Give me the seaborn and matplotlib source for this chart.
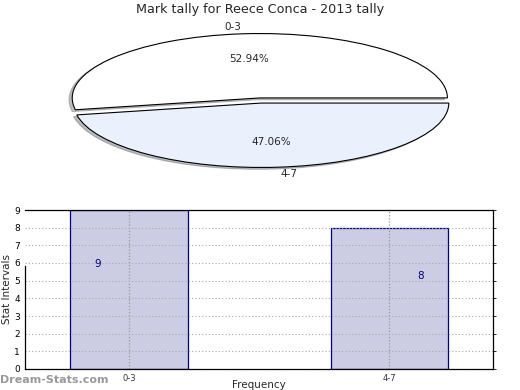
"""
Mark tally chart: pie of interval shares on top, bar chart of counts below.
"""

import matplotlib
matplotlib.use("Agg")
import matplotlib.pyplot as plt
import pandas as pd
import seaborn as sns

TITLE = "Mark tally for Reece Conca - 2013 tally"
intervals = ["0-3", "4-7"]
counts = [9, 8]
pie_colors = ["#ffffff", "#eaf0fc"]

BAR_FILL = "#ccccE4"
BAR_EDGE = "#000080"


def draw_pie(ax):
    ax.pie(
        counts,
        labels=intervals,
        colors=pie_colors,
        autopct="%.2f%%",
        startangle=0,
        counterclock=True,
        explode=[0.04, 0.04],
        shadow={"ox": -0.012, "oy": -0.02, "shade": 0.5},
        wedgeprops={"edgecolor": "black", "linewidth": 0.8},
        textprops={"fontsize": 7.5},
    )
    ax.set_aspect("auto")
    ax.set_xlim(-1.25, 1.25)
    ax.set_ylim(-1.25, 1.25)


def draw_bars(ax):
    df = pd.DataFrame({"interval": intervals, "count": counts})
    sns.barplot(data=df, x="interval", y="count", ax=ax, width=0.45,
                color=BAR_FILL, edgecolor=BAR_EDGE, linewidth=0.9,
                saturation=1, zorder=1)
    ax.set_xlim(-0.4, 1.4)
    ax.set_ylim(0, 9)
    ax.set_yticks(range(0, 10))
    ax.set_axisbelow(False)
    ax.grid(True, axis="y", linestyle=(0, (1, 2)), color="#aaaaaa", linewidth=0.8)
    ax.grid(True, axis="x", linestyle=(0, (1, 1.5)), color="#999999", linewidth=0.9)
    ax.tick_params(axis="both", labelsize=6, length=2, width=0.6, pad=1.5,
                   colors="#333333", right=True, direction="out")
    ax.tick_params(axis="y", labelsize=6.5, colors="black")
    for i, v in enumerate(counts):
        sign = -1 if i == 0 else 1
        ax.text(i + sign * 0.12, v * 0.66, str(v), color=BAR_EDGE,
                fontsize=7.5, ha="center", va="center", zorder=4)
    ax.set_xlabel("")
    ax.set_ylabel("Stat Intervals", fontsize=7.5)
    ax.yaxis.set_label_coords(-0.028, 0.5)
    for s in ax.spines.values():
        s.set_linewidth(0.9)
        s.set_color("black")
        s.set_zorder(5)
    ax.spines["left"].set_bounds(0, 5.85)


def main():
    sns.set_style("white")
    plt.rcParams["font.family"] = ["DejaVu Sans"]
    fig = plt.figure(figsize=(5.2, 3.9), dpi=100)

    ax_pie = fig.add_axes([26 / 520, (390 - 181) / 390, 469 / 520, 161 / 390])
    draw_pie(ax_pie)
    fig.text(0.5, 1 - 10 / 390, TITLE, ha="center", va="center", fontsize=9.2)

    ax_bar = fig.add_axes([25 / 520, 21 / 390, 468 / 520, 159 / 390])
    draw_bars(ax_bar)

    fig.text(259 / 520, 0.5 / 390, "Frequency", ha="center", va="bottom", fontsize=7.5)
    fig.text(0, 10 / 390, "Dream-Stats.com", ha="left", va="center",
             fontsize=8, color="#999999", fontweight="bold")

    fig.savefig("out.png", dpi=100)
    plt.close(fig)


if __name__ == "__main__":
    main()
